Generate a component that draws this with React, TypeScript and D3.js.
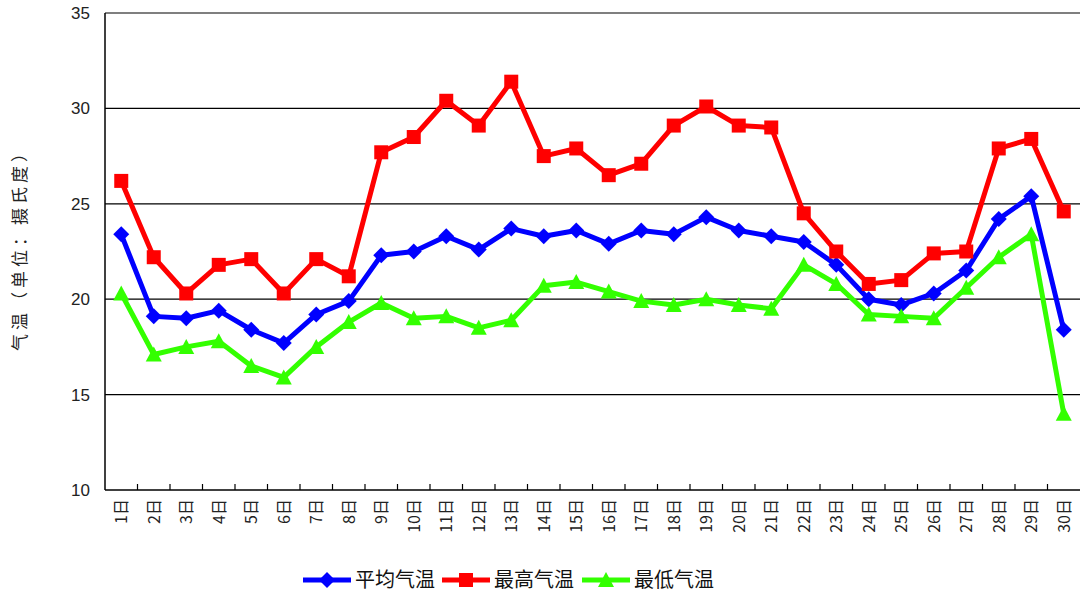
import React from "react";
import * as d3 from "d3";

const days = Array.from({ length: 30 }, (_, i) => `${i + 1}日`);
const avgTemp = [23.4, 19.1, 19.0, 19.4, 18.4, 17.7, 19.2, 19.9, 22.3, 22.5, 23.3, 22.6, 23.7, 23.3, 23.6, 22.9, 23.6, 23.4, 24.3, 23.6, 23.3, 23.0, 21.8, 20.0, 19.7, 20.3, 21.5, 24.2, 25.4, 18.4];
const maxTemp = [26.2, 22.2, 20.3, 21.8, 22.1, 20.3, 22.1, 21.2, 27.7, 28.5, 30.4, 29.1, 31.4, 27.5, 27.9, 26.5, 27.1, 29.1, 30.1, 29.1, 29.0, 24.5, 22.5, 20.8, 21.0, 22.4, 22.5, 27.9, 28.4, 24.6];
const minTemp = [20.3, 17.1, 17.5, 17.8, 16.5, 15.9, 17.5, 18.8, 19.8, 19.0, 19.1, 18.5, 18.9, 20.7, 20.9, 20.4, 19.9, 19.7, 20.0, 19.7, 19.5, 21.8, 20.8, 19.2, 19.1, 19.0, 20.6, 22.2, 23.4, 14.0];
const yTicks = [10, 15, 20, 25, 30, 35];
const seriesNames = ["平均气温", "最高气温", "最低气温"];
const seriesColors = ["#0000ff", "#ff0000", "#33ff00"];

const W = 1081, H = 595;
const left = 105, right = 1080, top = 13, bottom = 490;

export default function App() {
  const x = d3.scaleBand<string>().domain(days).range([left, right]);
  const y = d3.scaleLinear().domain([10, 35]).range([bottom, top]);
  const cx = (d: string) => (x(d) as number) + x.bandwidth() / 2;
  const line = d3.line<number>().x((_, i) => cx(days[i])).y((v) => y(v));
  const series = [avgTemp, maxTemp, minTemp];
  const font = "'Liberation Sans', Arial, sans-serif";
  const cjk = "'Noto Sans CJK SC', sans-serif";

  const marker = (k: number, px: number, py: number, key: string, color: string) => {
    if (k === 0) {
      const s = 8;
      return <path key={key} d={`M${px},${py - s}L${px + s},${py}L${px},${py + s}L${px - s},${py}Z`} fill={color} />;
    } else if (k === 1) {
      const s = 7;
      return <rect key={key} x={px - s} y={py - s} width={2 * s} height={2 * s} fill={color} />;
    } else {
      const s = 8;
      return <path key={key} d={`M${px},${py - s}L${px + s},${py + s - 1}L${px - s},${py + s - 1}Z`} fill={color} />;
    }
  };

  const legendX = [303, 442, 582];

  return (
    <svg width={W} height={H} style={{ position: "absolute", left: 0, top: 0, background: "#fff" }}>
      {yTicks.map((t) => (
        <g key={t}>
          {t > 10 && <line x1={left} x2={right} y1={y(t)} y2={y(t)} stroke="#000" strokeWidth={1.2} />}
          <text x={90} y={y(t)} dy="0.35em" textAnchor="end" fontSize={17} fontFamily={font} fill="#222">{t}</text>
        </g>
      ))}
      <line x1={left} x2={left} y1={top} y2={bottom} stroke="#000" strokeWidth={1.5} />
      <line x1={left} x2={right} y1={bottom} y2={bottom} stroke="#000" strokeWidth={1.5} />
      {days.slice(1).map((d) => (
        <line key={d} x1={x(d)} x2={x(d)} y1={bottom} y2={bottom - 6} stroke="#000" strokeWidth={1.2} />
      ))}
      {days.map((d) => (
        <text key={d} transform={`translate(${cx(d) + 6},${bottom + 9}) rotate(-90)`} textAnchor="end" fontSize={16} fontFamily={cjk} fill="#222">{d}</text>
      ))}
      <text transform={`translate(26,246) rotate(-90)`} textAnchor="middle" fontSize={17} letterSpacing={4} fontFamily={cjk} fill="#222">气温（单位：摄氏度）</text>
      {series.map((s, k) => (
        <g key={k}>
          <path d={line(s) || ""} fill="none" stroke={seriesColors[k]} strokeWidth={5} strokeLinejoin="round" />
          {s.map((v, i) => marker(k, cx(days[i]), y(v), `${k}-${i}`, seriesColors[k]))}
        </g>
      ))}
      {seriesNames.map((n, k) => (
        <g key={n}>
          <line x1={legendX[k]} x2={legendX[k] + 48} y1={580} y2={580} stroke={seriesColors[k]} strokeWidth={5} />
          {marker(k, legendX[k] + 24, 580, `lg${k}`, seriesColors[k])}
          <text x={legendX[k] + 52} y={580} dy="0.35em" fontSize={20} fontFamily={cjk} fill="#111">{n}</text>
        </g>
      ))}
    </svg>
  );
}
